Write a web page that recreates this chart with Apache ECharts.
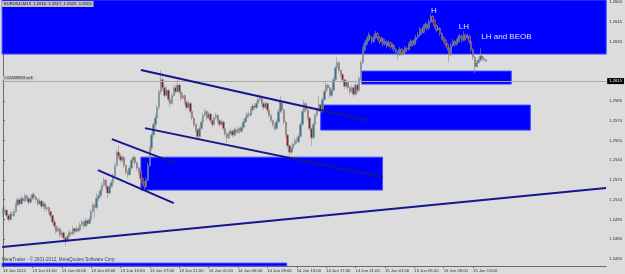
<!DOCTYPE html>
<html>
<head>
<meta charset="utf-8">
<script src="https://cdn.jsdelivr.net/npm/echarts@6/dist/echarts.min.js"></script>
<style>
html, body { margin: 0; padding: 0; background: #dcdcdc; }
#chart { width: 625px; height: 274px; }
</style>
</head>
<body>
<div id="chart"></div>
<script>
// EURUSD M15, 13-15 Jun 2012 - one row per bar: [open, close, low, high]
const candles = [
  [1.2500,1.2501,1.2497,1.2504],[1.2501,1.2502,1.2499,1.2505],[1.2502,1.2498,1.2496,1.2503],[1.2498,1.2495,1.2493,1.2499],
  [1.2495,1.2499,1.2494,1.2501],[1.2499,1.2498,1.2496,1.2501],[1.2498,1.2501,1.2497,1.2503],[1.2501,1.2506,1.2500,1.2508],
  [1.2506,1.2510,1.2505,1.2512],[1.2510,1.2507,1.2505,1.2511],[1.2507,1.2511,1.2506,1.2513],[1.2511,1.2509,1.2507,1.2512],
  [1.2509,1.2513,1.2508,1.2515],[1.2513,1.2511,1.2509,1.2514],[1.2511,1.2508,1.2506,1.2512],[1.2508,1.2511,1.2507,1.2513],
  [1.2511,1.2514,1.2510,1.2515],[1.2514,1.2512,1.2510,1.2516],[1.2512,1.2510,1.2508,1.2513],[1.2510,1.2507,1.2505,1.2511],
  [1.2507,1.2509,1.2506,1.2511],[1.2509,1.2505,1.2503,1.2510],[1.2505,1.2507,1.2504,1.2509],[1.2507,1.2503,1.2501,1.2508],
  [1.2503,1.2504,1.2501,1.2506],[1.2504,1.2501,1.2499,1.2505],[1.2501,1.2498,1.2496,1.2502],[1.2498,1.2493,1.2491,1.2499],
  [1.2493,1.2490,1.2488,1.2495],[1.2490,1.2486,1.2484,1.2491],[1.2486,1.2488,1.2485,1.2490],[1.2488,1.2483,1.2481,1.2489],
  [1.2483,1.2485,1.2482,1.2487],[1.2485,1.2481,1.2479,1.2486],[1.2481,1.2479,1.2475,1.2482],[1.2479,1.2482,1.2478,1.2484],
  [1.2482,1.2485,1.2481,1.2487],[1.2485,1.2484,1.2482,1.2487],[1.2484,1.2488,1.2483,1.2490],[1.2488,1.2486,1.2484,1.2489],
  [1.2486,1.2488,1.2485,1.2490],[1.2488,1.2487,1.2485,1.2490],[1.2487,1.2491,1.2486,1.2493],[1.2491,1.2493,1.2490,1.2495],
  [1.2493,1.2490,1.2488,1.2494],[1.2490,1.2494,1.2489,1.2496],[1.2494,1.2492,1.2490,1.2495],[1.2492,1.2495,1.2491,1.2497],
  [1.2495,1.2501,1.2494,1.2503],[1.2501,1.2506,1.2500,1.2508],[1.2506,1.2504,1.2496,1.2507],[1.2504,1.2511,1.2503,1.2515],
  [1.2511,1.2513,1.2509,1.2515],[1.2513,1.2517,1.2512,1.2519],[1.2517,1.2521,1.2516,1.2523],[1.2521,1.2525,1.2520,1.2527],
  [1.2525,1.2520,1.2518,1.2526],[1.2520,1.2515,1.2511,1.2521],[1.2515,1.2520,1.2514,1.2522],[1.2520,1.2523,1.2519,1.2525],
  [1.2523,1.2528,1.2522,1.2530],[1.2528,1.2536,1.2527,1.2538],[1.2536,1.2546,1.2535,1.2548],[1.2546,1.2543,1.2541,1.2551],
  [1.2543,1.2540,1.2538,1.2545],[1.2540,1.2542,1.2538,1.2544],[1.2542,1.2536,1.2534,1.2543],[1.2536,1.2531,1.2529,1.2537],
  [1.2531,1.2529,1.2526,1.2532],[1.2529,1.2534,1.2528,1.2536],[1.2534,1.2540,1.2533,1.2542],[1.2540,1.2542,1.2538,1.2544],
  [1.2542,1.2538,1.2536,1.2543],[1.2538,1.2534,1.2532,1.2539],[1.2534,1.2531,1.2529,1.2535],[1.2531,1.2526,1.2524,1.2532],
  [1.2526,1.2523,1.2521,1.2527],[1.2523,1.2520,1.2517,1.2524],[1.2520,1.2525,1.2519,1.2527],[1.2525,1.2536,1.2524,1.2538],
  [1.2536,1.2549,1.2535,1.2551],[1.2549,1.2559,1.2547,1.2561],[1.2559,1.2567,1.2557,1.2569],[1.2567,1.2572,1.2564,1.2575],
  [1.2572,1.2580,1.2570,1.2582],[1.2580,1.2592,1.2578,1.2594],[1.2592,1.2601,1.2590,1.2608],[1.2601,1.2595,1.2593,1.2603],
  [1.2595,1.2589,1.2587,1.2597],[1.2589,1.2593,1.2588,1.2596],[1.2593,1.2586,1.2584,1.2594],[1.2586,1.2583,1.2580,1.2587],
  [1.2583,1.2589,1.2582,1.2591],[1.2589,1.2595,1.2588,1.2597],[1.2595,1.2592,1.2590,1.2597],[1.2592,1.2597,1.2591,1.2601],
  [1.2597,1.2592,1.2590,1.2598],[1.2592,1.2587,1.2585,1.2593],[1.2587,1.2589,1.2586,1.2591],[1.2589,1.2584,1.2582,1.2590],
  [1.2584,1.2580,1.2578,1.2585],[1.2580,1.2583,1.2579,1.2585],[1.2583,1.2577,1.2575,1.2584],[1.2577,1.2572,1.2570,1.2578],
  [1.2572,1.2567,1.2565,1.2573],[1.2567,1.2563,1.2561,1.2568],[1.2563,1.2558,1.2555,1.2564],[1.2558,1.2564,1.2557,1.2566],
  [1.2564,1.2569,1.2563,1.2571],[1.2569,1.2574,1.2568,1.2576],[1.2574,1.2577,1.2573,1.2579],[1.2577,1.2572,1.2570,1.2578],
  [1.2572,1.2575,1.2571,1.2577],[1.2575,1.2570,1.2568,1.2576],[1.2570,1.2567,1.2565,1.2571],[1.2567,1.2572,1.2566,1.2574],
  [1.2572,1.2574,1.2571,1.2576],[1.2574,1.2570,1.2568,1.2575],[1.2570,1.2567,1.2565,1.2571],[1.2567,1.2569,1.2566,1.2571],
  [1.2569,1.2564,1.2562,1.2570],[1.2564,1.2560,1.2558,1.2565],[1.2560,1.2557,1.2553,1.2561],[1.2557,1.2560,1.2556,1.2562],
  [1.2560,1.2562,1.2559,1.2564],[1.2562,1.2559,1.2557,1.2563],[1.2559,1.2563,1.2558,1.2565],[1.2563,1.2561,1.2559,1.2564],
  [1.2561,1.2564,1.2560,1.2566],[1.2564,1.2562,1.2560,1.2565],[1.2562,1.2565,1.2561,1.2567],[1.2565,1.2569,1.2564,1.2571],
  [1.2569,1.2572,1.2568,1.2574],[1.2572,1.2575,1.2571,1.2577],[1.2575,1.2574,1.2572,1.2577],[1.2574,1.2578,1.2573,1.2580],
  [1.2578,1.2581,1.2577,1.2583],[1.2581,1.2580,1.2578,1.2583],[1.2580,1.2583,1.2579,1.2585],[1.2583,1.2586,1.2582,1.2588],
  [1.2586,1.2587,1.2584,1.2590],[1.2587,1.2583,1.2581,1.2588],[1.2583,1.2580,1.2578,1.2584],[1.2580,1.2583,1.2579,1.2585],
  [1.2583,1.2578,1.2576,1.2584],[1.2578,1.2574,1.2572,1.2579],[1.2574,1.2570,1.2568,1.2575],[1.2570,1.2567,1.2565,1.2571],
  [1.2567,1.2564,1.2562,1.2568],[1.2564,1.2569,1.2563,1.2571],[1.2569,1.2577,1.2568,1.2579],[1.2577,1.2584,1.2576,1.2589],
  [1.2584,1.2578,1.2576,1.2585],[1.2578,1.2569,1.2567,1.2579],[1.2569,1.2559,1.2557,1.2570],[1.2559,1.2551,1.2549,1.2560],
  [1.2551,1.2546,1.2542,1.2552],[1.2546,1.2549,1.2545,1.2551],[1.2549,1.2552,1.2548,1.2554],[1.2552,1.2555,1.2551,1.2557],
  [1.2555,1.2554,1.2552,1.2557],[1.2554,1.2558,1.2553,1.2560],[1.2558,1.2567,1.2557,1.2569],[1.2567,1.2577,1.2566,1.2579],
  [1.2577,1.2583,1.2576,1.2586],[1.2583,1.2578,1.2576,1.2584],[1.2578,1.2572,1.2570,1.2579],[1.2572,1.2564,1.2562,1.2573],
  [1.2564,1.2557,1.2551,1.2565],[1.2557,1.2567,1.2556,1.2569],[1.2567,1.2574,1.2566,1.2576],[1.2574,1.2578,1.2573,1.2580],
  [1.2578,1.2582,1.2577,1.2589],[1.2582,1.2577,1.2575,1.2583],[1.2577,1.2586,1.2576,1.2588],[1.2586,1.2592,1.2585,1.2594],
  [1.2592,1.2597,1.2591,1.2599],[1.2597,1.2595,1.2593,1.2598],[1.2595,1.2589,1.2587,1.2596],[1.2589,1.2593,1.2588,1.2595],
  [1.2593,1.2601,1.2592,1.2603],[1.2601,1.2610,1.2600,1.2612],[1.2610,1.2614,1.2609,1.2618],[1.2614,1.2608,1.2606,1.2615],
  [1.2608,1.2605,1.2603,1.2609],[1.2605,1.2601,1.2599,1.2606],[1.2601,1.2596,1.2594,1.2602],[1.2596,1.2599,1.2595,1.2601],
  [1.2599,1.2595,1.2593,1.2600],[1.2595,1.2592,1.2590,1.2596],[1.2592,1.2595,1.2591,1.2597],[1.2595,1.2590,1.2588,1.2596],
  [1.2590,1.2597,1.2589,1.2599],[1.2597,1.2593,1.2591,1.2598],[1.2593,1.2602,1.2592,1.2604],[1.2602,1.2614,1.2601,1.2616],
  [1.2614,1.2624,1.2613,1.2626],[1.2624,1.2628,1.2622,1.2630],[1.2628,1.2631,1.2627,1.2633],[1.2631,1.2634,1.2630,1.2637],
  [1.2634,1.2633,1.2631,1.2636],[1.2633,1.2630,1.2628,1.2634],[1.2630,1.2633,1.2629,1.2635],[1.2633,1.2636,1.2632,1.2638],
  [1.2636,1.2633,1.2631,1.2637],[1.2633,1.2630,1.2628,1.2634],[1.2630,1.2632,1.2629,1.2634],[1.2632,1.2628,1.2626,1.2633],
  [1.2628,1.2630,1.2627,1.2632],[1.2630,1.2627,1.2625,1.2631],[1.2627,1.2629,1.2626,1.2631],[1.2629,1.2626,1.2624,1.2630],
  [1.2626,1.2627,1.2624,1.2629],[1.2627,1.2624,1.2622,1.2628],[1.2624,1.2622,1.2620,1.2625],[1.2622,1.2620,1.2616,1.2623],
  [1.2620,1.2624,1.2619,1.2626],[1.2624,1.2621,1.2619,1.2625],[1.2621,1.2622,1.2620,1.2624],[1.2622,1.2625,1.2621,1.2627],
  [1.2625,1.2624,1.2622,1.2626],[1.2624,1.2627,1.2623,1.2629],[1.2627,1.2630,1.2626,1.2632],[1.2630,1.2628,1.2626,1.2631],
  [1.2628,1.2631,1.2627,1.2633],[1.2631,1.2633,1.2630,1.2635],[1.2633,1.2635,1.2632,1.2637],[1.2635,1.2639,1.2634,1.2641],
  [1.2639,1.2637,1.2635,1.2640],[1.2637,1.2641,1.2636,1.2643],[1.2641,1.2643,1.2640,1.2645],[1.2643,1.2640,1.2638,1.2644],
  [1.2640,1.2645,1.2639,1.2647],[1.2645,1.2649,1.2644,1.2651],[1.2649,1.2646,1.2644,1.2650],[1.2646,1.2642,1.2640,1.2647],
  [1.2642,1.2639,1.2637,1.2643],[1.2639,1.2640,1.2638,1.2642],[1.2640,1.2636,1.2634,1.2641],[1.2636,1.2633,1.2631,1.2637],
  [1.2633,1.2631,1.2629,1.2634],[1.2631,1.2628,1.2626,1.2632],[1.2628,1.2625,1.2623,1.2629],[1.2625,1.2620,1.2614,1.2626],
  [1.2620,1.2627,1.2619,1.2629],[1.2627,1.2630,1.2626,1.2632],[1.2630,1.2628,1.2626,1.2631],[1.2628,1.2630,1.2627,1.2632],
  [1.2630,1.2633,1.2629,1.2635],[1.2633,1.2634,1.2631,1.2636],[1.2634,1.2631,1.2629,1.2635],[1.2631,1.2635,1.2630,1.2638],
  [1.2635,1.2633,1.2631,1.2636],[1.2633,1.2634,1.2632,1.2636],[1.2634,1.2630,1.2628,1.2635],[1.2630,1.2624,1.2622,1.2631],
  [1.2624,1.2618,1.2616,1.2625],[1.2618,1.2611,1.2606,1.2619],[1.2611,1.2614,1.2610,1.2616],[1.2614,1.2616,1.2613,1.2618],
  [1.2616,1.2619,1.2615,1.2625],[1.2619,1.2617,1.2615,1.2620],[1.2617,1.2616,1.2615,1.2619],[1.2616,1.2615,1.2615,1.2617]
];

// one time label every 16 bars (4 hours)
const timeLabels = [
  '13 Jun 2012', '13 Jun 01:00', '13 Jun 05:00', '13 Jun 09:00', '13 Jun 13:00', '13 Jun 17:00',
  '13 Jun 21:00', '14 Jun 01:00', '14 Jun 05:00', '14 Jun 09:00', '14 Jun 13:00', '14 Jun 17:00',
  '14 Jun 21:00', '15 Jun 01:00', '15 Jun 05:00', '15 Jun 09:00', '15 Jun 13:00'
];
const barsPerLabel = 16;
const slotCount = 329; // bars + empty space on the right

const priceTicks = [1.2465, 1.2480, 1.2495, 1.2510, 1.2525, 1.2540, 1.2555, 1.2570,
  1.2585, 1.2600, 1.2630, 1.2645, 1.2660];
const priceMin = 1.24597;
const priceMax = 1.26615;

const bidPrice = 1.2615;
const orderPrice = 1.2616;
const orderName = '#22489963 sell';
const redLevel = 1.25864;
const purpleLevel = 1.26296;

// supply / demand rectangles: [fromBar, toBar, lowPrice, highPrice]
const topZone = [1.26205, 1.26615];
const zones = [
  [195.3, 276.8, 1.25977, 1.26076],
  [173.0, 287.2, 1.25628, 1.25818],
  [75.1, 206.7, 1.25173, 1.25423],
  [-0.5, 154.5, 1.24597, 1.24619]
];

// trend lines: [fromBar, fromPrice, toBar, toPrice]
const trendLines = [
  [-0.4, 1.24742, 328.4, 1.25188],
  [51.7, 1.25325, 93.0, 1.25074],
  [59.3, 1.25560, 93.6, 1.25378],
  [75.1, 1.26084, 199.6, 1.25697],
  [77.3, 1.25643, 206.7, 1.25272]
];

// notes on the chart: [text, bar, price]
const notes = [
  ['H', 234.7, 1.26535],
  ['LH', 251.0, 1.26410],
  ['LH and BEOB', 260.5, 1.26338]
];

const chart = echarts.init(document.getElementById('chart'));
const labelTicks = timeLabels.map((t, i) => i * barsPerLabel);
const small = { fontFamily: 'Liberation Sans', fontSize: 4.2, color: '#303030' };

const option = {
  animation: false,
  backgroundColor: '#dcdcdc',
  title: {
    text: 'EURUSD,M15  1.2616  1.2617  1.2615  1.2615',
    left: 2, top: 1, padding: [1, 2],
    backgroundColor: '#bcbcbc',
    textStyle: { ...small, fontWeight: 'normal', color: '#202020' }
  },
  graphic: [{
    type: 'text', left: 2, top: 257,
    style: { text: 'MetaTrader - \u00a9 2001-2012, MetaQuotes Software Corp.', ...small, fontSize: 4.6, fill: '#404040' }
  }],
  grid: { left: 2, right: 18, top: 0, bottom: 8 },
  xAxis: {
    type: 'value',
    min: -0.5,
    max: slotCount - 0.5,
    splitLine: { show: false },
    axisLine: { onZero: false, lineStyle: { color: '#6a6a6a' } },
    axisTick: { customValues: labelTicks, length: 2, lineStyle: { color: '#6a6a6a' } },
    axisLabel: {
      customValues: labelTicks,
      ...small,
      align: 'left',
      margin: 3,
      formatter: v => timeLabels[Math.round(v / barsPerLabel)] || ''
    }
  },
  yAxis: {
    type: 'value',
    position: 'right',
    min: priceMin,
    max: priceMax,
    splitLine: { show: false },
    axisLine: { show: true, lineStyle: { color: '#6a6a6a' } },
    axisTick: { customValues: priceTicks, length: 2, lineStyle: { color: '#6a6a6a' } },
    axisLabel: { customValues: priceTicks, ...small, margin: 3, formatter: v => v.toFixed(4) }
  },
  series: [
    {
      // rectangles drawn under the candles
      type: 'line',
      data: [],
      z: 1,
      silent: true,
      markArea: {
        silent: true,
        itemStyle: { color: '#0000ff', borderColor: '#4848ff', borderWidth: 1 },
        data: [[{ yAxis: topZone[0] }, { yAxis: topZone[1] }]].concat(
          zones.map(z => [{ coord: [z[0], z[3]] }, { coord: [z[1], z[2]] }])
        )
      }
    },
    {
      type: 'line',
      data: [],
      z: 2,
      silent: true,
      markLine: {
        silent: true,
        symbol: ['none', 'none'],
        label: { show: false },
        data: [
          { yAxis: purpleLevel, lineStyle: { color: '#9a3cc8', type: [4, 2, 1, 2], width: 1 } },
          { yAxis: redLevel, lineStyle: { color: '#e86a6a', type: [5, 2, 1, 2], width: 1 } },
          {
            yAxis: orderPrice,
            lineStyle: { color: '#9ed89e', type: [4, 3], width: 1 },
            label: {
              show: true, position: 'insideStartTop', distance: 1, formatter: orderName,
              ...small, backgroundColor: '#c6c6c6', padding: [0, 1]
            }
          },
          {
            yAxis: bidPrice,
            lineStyle: { color: '#a8a8a8', type: 'solid', width: 1 },
            label: {
              show: true, position: 'end', distance: 1, formatter: bidPrice.toFixed(4),
              ...small, color: '#ffffff', backgroundColor: '#000000', padding: [1, 2]
            }
          }
        ]
      }
    },
    {
      type: 'candlestick',
      z: 3,
      barWidth: 2,
      data: candles.map((c, i) => [i].concat(c)),
      encode: { x: 0, y: [1, 2, 3, 4] },
      itemStyle: {
        color: '#2c7b99', color0: '#951c1c',
        borderColor: '#8e8e8e', borderColor0: '#8e8e8e', borderWidth: 0.6
      }
    },
    {
      type: 'line',
      data: [],
      z: 4,
      silent: true,
      markLine: {
        silent: true,
        symbol: ['none', 'none'],
        label: { show: false },
        lineStyle: { color: '#16168e', width: 2, type: 'solid' },
        data: trendLines.map(t => [{ coord: [t[0], t[1]] }, { coord: [t[2], t[3]] }])
      },
      markPoint: {
        silent: true,
        symbol: 'circle',
        symbolSize: 0,
        data: notes.map(n => ({
          coord: [n[1], n[2]],
          label: {
            show: true, position: 'inside', formatter: n[0],
            align: n[0].length > 3 ? 'left' : 'center',
            fontFamily: 'Liberation Sans', fontSize: 8, color: '#e4e4f4'
          }
        }))
      }
    }
  ]
};

chart.setOption(option);
</script>
</body>
</html>
